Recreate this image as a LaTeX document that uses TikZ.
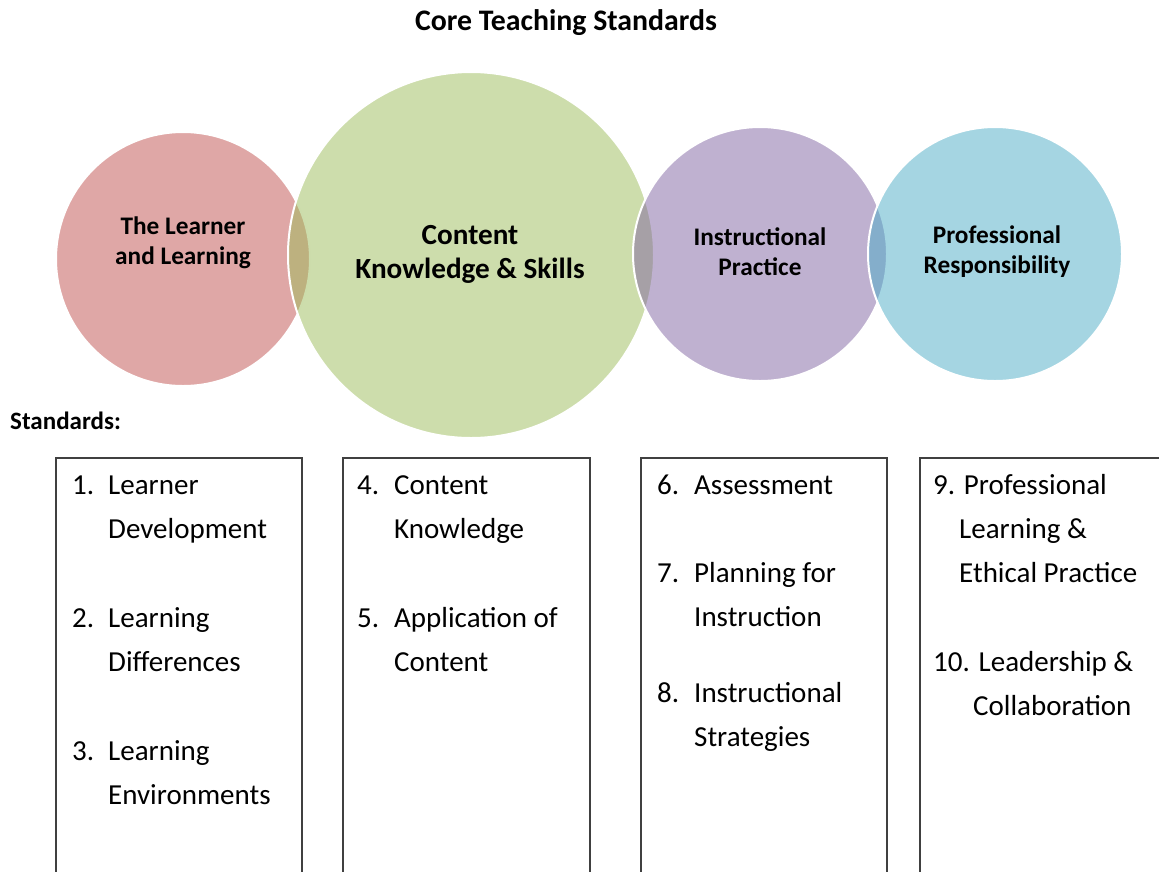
\documentclass[tikz,border=0pt]{standalone}
\usepackage{fontspec}
\setmainfont{Carlito}

\definecolor{learnerred}{HTML}{C0504D}
\definecolor{contentgreen}{HTML}{9BBB59}
\definecolor{practicepurple}{HTML}{8064A2}
\definecolor{responsibilityblue}{HTML}{4BACC6}

\tikzset{
	standard/.style={circle, draw=white, line width=2pt, fill opacity=0.5, inner sep=0pt},
	circlelabel/.style={align=center, inner sep=0pt, font=\bfseries\fontsize{25.3}{30}\selectfont},
	listbox/.style={draw=black!75, line width=1.5pt, anchor=north west,
		minimum width=246, minimum height=440, inner sep=0pt},
	listline/.style={anchor=base west, inner sep=0pt, font=\fontsize{29}{34}\selectfont}
}

\begin{document}
\begin{tikzpicture}[x=1pt, y=-1pt]
	\useasboundingbox (0,0) rectangle (1159,871);
	\clip (0,0) rectangle (1159,871);

	\node (title) at (566,23) [font=\bfseries\fontsize{29.8}{34}\selectfont] {Core Teaching Standards};

	% the four circles
	\node (learner) at (183,259) [standard, fill=learnerred, minimum size=254] {};
	\node (content) at (471,255) [standard, fill=contentgreen, minimum size=366] {};
	\node (practice) at (760,254) [standard, fill=practicepurple, minimum size=254] {};
	\node (responsibility) at (995,254) [standard, fill=responsibilityblue, minimum size=254] {};

	\node (learnertext) at (183,243) [circlelabel] {The Learner\\and Learning};
	\node (contenttext) at (470,254) [circlelabel, font=\bfseries\fontsize{29.2}{34}\selectfont]
		{Content\\Knowledge \& Skills};
	\node (practicetext) at (760,252) [circlelabel] {Instructional\\Practice};
	\node (responsibilitytext) at (997,252) [circlelabel] {Professional\\Responsibility};

	\node (standards) at (10,421) [anchor=west, inner sep=0pt,
		font=\bfseries\fontsize{25}{30}\selectfont] {Standards:};

	% boxes below
	\node (learnerbox) at (55,457) [listbox] {};
	\node (contentbox) at (342,457) [listbox, minimum width=247] {};
	\node (practicebox) at (640,457) [listbox] {};
	\node (responsibilitybox) at (919,457) [listbox, minimum width=300] {};

	\node (num1) at (72,494) [listline] {1.};
	\node (std1a) at (108,494) [listline] {Learner};
	\node (std1b) at (108,538) [listline] {Development};
	\node (num2) at (72,627) [listline] {2.};
	\node (std2a) at (108,627) [listline] {Learning};
	\node (std2b) at (108,671) [listline] {Differences};
	\node (num3) at (72,760) [listline] {3.};
	\node (std3a) at (108,760) [listline] {Learning};
	\node (std3b) at (108,804) [listline] {Environments};

	\node (num4) at (357,494) [listline] {4.};
	\node (std4a) at (394,494) [listline] {Content};
	\node (std4b) at (394,538) [listline] {Knowledge};
	\node (num5) at (357,627) [listline] {5.};
	\node (std5a) at (394,627) [listline] {Application of};
	\node (std5b) at (394,671) [listline] {Content};

	\node (num6) at (657,494) [listline] {6.};
	\node (std6) at (694,494) [listline] {Assessment};
	\node (num7) at (657,582) [listline] {7.};
	\node (std7a) at (694,582) [listline] {Planning for};
	\node (std7b) at (694,626) [listline] {Instruction};
	\node (num8) at (657,702) [listline] {8.};
	\node (std8a) at (694,702) [listline] {Instructional};
	\node (std8b) at (694,746) [listline] {Strategies};

	\node (std9a) at (933,494) [listline] {9. Professional};
	\node (std9b) at (959,538) [listline] {Learning \&};
	\node (std9c) at (959,582) [listline] {Ethical Practice};
	\node (std10a) at (933,671) [listline] {10. Leadership \&};
	\node (std10b) at (973,715) [listline] {Collaboration};
\end{tikzpicture}
\end{document}
